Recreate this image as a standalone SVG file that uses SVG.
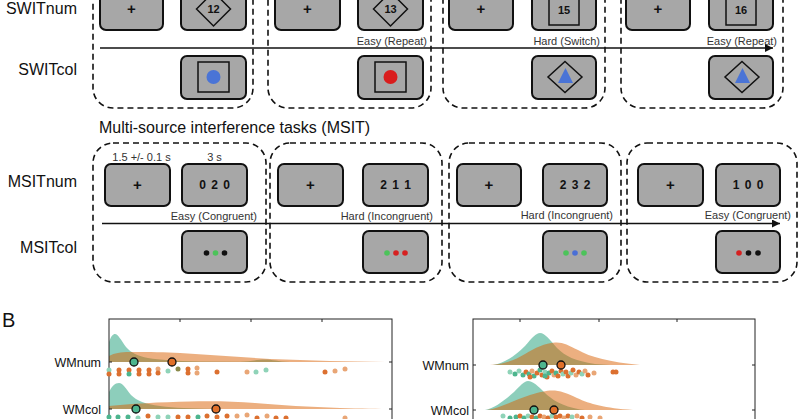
<svg xmlns="http://www.w3.org/2000/svg" width="800" height="419" viewBox="0 0 800 419">
<defs>
<style>
text{font-family:"Liberation Sans",Arial,sans-serif;fill:#111}
.lbl{font-size:16px}
.cond{font-size:11px;fill:#333}
.fix{font-size:15px;font-weight:bold;text-anchor:middle}
.num{font-size:11px;font-weight:bold;text-anchor:middle}
.mnum{font-size:12px;font-weight:bold;text-anchor:middle;letter-spacing:1px}
.panel{fill:none;stroke:#111;stroke-width:1.6;stroke-dasharray:6 4}
.scr{fill:#a7a7a7;stroke:#111;stroke-width:2}
.shape{fill:none;stroke:#111;stroke-width:1.5}
.ax{fill:none;stroke:#222;stroke-width:1}
.dg{fill:#1b9e77;fill-opacity:0.5}
.do{fill:#d95f02;fill-opacity:0.5}
.g{fill:#4db58e}
.lg{fill:#8fd3b8}
.o{fill:#dc7030}
.lo{fill:#e9a676}
.ol{fill:#8a8a4a}
.med{stroke:#111;stroke-width:1.3}
.wm{font-size:12.5px;text-anchor:end}
</style>
<marker id="ah" viewBox="0 0 10 10" refX="10" refY="5" markerWidth="11" markerHeight="8" markerUnits="userSpaceOnUse" orient="auto"><path d="M0,0 L10,5 L0,10 Z" fill="#111"/></marker>
</defs>
<rect width="800" height="419" fill="#fff"/>

<!-- Row labels -->
<g id="labels">
<text class="lbl" x="77" y="14" text-anchor="end">SWITnum</text>
<text class="lbl" x="77" y="75" text-anchor="end">SWITcol</text>
<text class="lbl" x="99" y="133">Multi-source interference tasks (MSIT)</text>
<text class="lbl" x="77" y="187" text-anchor="end">MSITnum</text>
<text class="lbl" x="77" y="253" text-anchor="end">MSITcol</text>
</g>

<!-- SWIT panels -->
<g id="swit1">
<rect class="panel" x="93" y="-40" width="160" height="148" rx="20"/>
<rect class="scr" x="100" y="-13" width="63" height="43" rx="6"/>
<text class="fix" x="131.5" y="14">+</text>
<rect class="scr" x="181" y="-13" width="65" height="43" rx="6"/>
<polygon class="shape" points="213.5,-8 230.5,9 213.5,26 196.5,9"/>
<text class="num" x="213.5" y="13">12</text>
<rect class="scr" x="181" y="56" width="65" height="43" rx="6"/>
<rect class="shape" x="198" y="62" width="31" height="30"/>
<circle cx="213.5" cy="77" r="7" fill="#4a74d6"/>
</g>
<g id="swit2">
<rect class="panel" x="268" y="-40" width="163" height="148" rx="20"/>
<rect class="scr" x="275" y="-13" width="65" height="43" rx="6"/>
<text class="fix" x="307.5" y="14">+</text>
<rect class="scr" x="358" y="-13" width="65" height="43" rx="6"/>
<polygon class="shape" points="390.5,-8 407.5,9 390.5,26 373.5,9"/>
<text class="num" x="390.5" y="13">13</text>
<text class="cond" x="427" y="45" text-anchor="end">Easy (Repeat)</text>
<rect class="scr" x="358" y="56" width="65" height="43" rx="6"/>
<rect class="shape" x="375" y="62" width="31" height="30"/>
<circle cx="390.5" cy="77" r="7" fill="#d91c1c"/>
</g>
<g id="swit3">
<rect class="panel" x="443" y="-40" width="162" height="148" rx="20"/>
<rect class="scr" x="449" y="-13" width="64" height="43" rx="6"/>
<text class="fix" x="481" y="14">+</text>
<rect class="scr" x="532" y="-13" width="64" height="43" rx="6"/>
<rect class="shape" x="549" y="-6" width="30" height="31"/>
<text class="num" x="564" y="14">15</text>
<text class="cond" x="600" y="45" text-anchor="end">Hard (Switch)</text>
<rect class="scr" x="532" y="56" width="64" height="43" rx="6"/>
<polygon class="shape" points="565,61.5 582,77 565,92.5 548,77"/>
<polygon points="565.5,68 573,83 558,83" fill="#4a74d6"/>
</g>
<g id="swit4">
<rect class="panel" x="621" y="-40" width="162" height="148" rx="20"/>
<rect class="scr" x="626" y="-13" width="64" height="43" rx="6"/>
<text class="fix" x="658" y="14">+</text>
<rect class="scr" x="709" y="-13" width="64" height="43" rx="6"/>
<rect class="shape" x="726" y="-6" width="30" height="31"/>
<text class="num" x="741" y="14">16</text>
<text class="cond" x="777" y="45" text-anchor="end">Easy (Repeat)</text>
<rect class="scr" x="709" y="56" width="64" height="43" rx="6"/>
<polygon class="shape" points="742,61.5 759,77 742,92.5 725,77"/>
<polygon points="742.5,68 750,83 735,83" fill="#4a74d6"/>
</g>

<!-- MSIT panels -->
<g id="msit1">
<rect class="panel" x="93" y="143" width="173" height="139" rx="20"/>
<text class="cond" x="141.5" y="161" text-anchor="middle">1.5 +/- 0.1 s</text>
<text class="cond" x="214.5" y="161" text-anchor="middle">3 s</text>
<rect class="scr" x="105" y="164" width="65" height="42" rx="6"/>
<text class="fix" x="137.5" y="190">+</text>
<rect class="scr" x="182" y="164" width="65" height="42" rx="6"/>
<text class="mnum" x="215" y="189">0 2 0</text>
<text class="cond" x="257" y="220" text-anchor="end">Easy (Congruent)</text>
<rect class="scr" x="182" y="231" width="65" height="42" rx="6"/>
<circle cx="206.5" cy="253" r="2.8" fill="#111"/>
<circle cx="215.5" cy="253" r="2.8" fill="#4cc35a"/>
<circle cx="224.5" cy="253" r="2.8" fill="#111"/>
</g>
<g id="msit2">
<rect class="panel" x="270" y="143" width="172" height="139" rx="20"/>
<rect class="scr" x="278" y="164" width="65" height="42" rx="6"/>
<text class="fix" x="310.5" y="190">+</text>
<rect class="scr" x="363" y="164" width="65" height="42" rx="6"/>
<text class="mnum" x="396" y="189">2 1 1</text>
<text class="cond" x="433" y="220" text-anchor="end">Hard (Incongruent)</text>
<rect class="scr" x="363" y="231" width="65" height="42" rx="6"/>
<circle cx="387" cy="253" r="2.8" fill="#4cc35a"/>
<circle cx="396" cy="253" r="2.8" fill="#d62020"/>
<circle cx="405" cy="253" r="2.8" fill="#d62020"/>
</g>
<g id="msit3">
<rect class="panel" x="449" y="143" width="172" height="139" rx="20"/>
<rect class="scr" x="457" y="164" width="64" height="42" rx="6"/>
<text class="fix" x="489" y="190">+</text>
<rect class="scr" x="543" y="164" width="64" height="42" rx="6"/>
<text class="mnum" x="575.5" y="189">2 3 2</text>
<text class="cond" x="613" y="219" text-anchor="end">Hard (Incongruent)</text>
<rect class="scr" x="543" y="231" width="64" height="42" rx="6"/>
<circle cx="566" cy="253" r="2.8" fill="#4cc35a"/>
<circle cx="575" cy="253" r="2.8" fill="#4a6fd6"/>
<circle cx="584" cy="253" r="2.8" fill="#4cc35a"/>
</g>
<g id="msit4">
<rect class="panel" x="627" y="143" width="170" height="139" rx="20"/>
<rect class="scr" x="638" y="164" width="65" height="42" rx="6"/>
<text class="fix" x="670.5" y="190">+</text>
<rect class="scr" x="716" y="164" width="64" height="42" rx="6"/>
<text class="mnum" x="748.5" y="189">1 0 0</text>
<text class="cond" x="791" y="219" text-anchor="end">Easy (Congruent)</text>
<rect class="scr" x="716" y="231" width="64" height="42" rx="6"/>
<circle cx="739" cy="253" r="2.8" fill="#d62020"/>
<circle cx="748.5" cy="253" r="2.8" fill="#111"/>
<circle cx="758" cy="253" r="2.8" fill="#111"/>
</g>

<!-- Connectors: time arrows -->
<g id="connectors" stroke="#111" stroke-width="1.6" fill="none">
<line x1="100" y1="48" x2="773" y2="48" marker-end="url(#ah)"/>
<line x1="102" y1="223.5" x2="780" y2="223.5" marker-end="url(#ah)"/>
</g>

<!-- Panel B -->
<g id="panelB">
<text x="2" y="327" font-size="20px">B</text>

<!-- left plot -->
<g id="plotLeft">
<path class="dg" d="M109,362 L109,342 C111,336 113,334 115,334 C118,334 121,340 126,347 C131,353 138,356 148,358 C160,360 175,361 200,361.5 L240,361.7 C250,361.5 258,359.5 265,359.5 C272,359.5 278,361.5 290,362 Z"/>
<path class="do" d="M109,362 L109,356 C115,353 120,352 130,352 C150,352 165,352 180,353 C210,355 240,357 270,359 C310,360.5 350,361.5 385,362 Z"/>
<path class="dg" d="M109,409 L109,392 C112,386 115,383 119,383 C123,383 126,389 131,395 C137,401 145,404 160,406 C175,408 190,408.5 215,409 Z"/>
<path class="do" d="M109,409 L109,406 C130,404 160,402 190,401.5 C215,401 235,401.5 255,403 C280,405 310,407 340,408 C360,408.7 380,409 392,409 Z"/>
<rect class="ax" x="109" y="319" width="283" height="130"/>
<path class="ax" d="M180,319 v3 M251,319 v3 M322,319 v3 M392,362 h-3 M392,409 h-3 M109,362 h3 M109,409 h3"/>
<text class="wm" x="101" y="367">WMnum</text>
<text class="wm" x="101" y="414">WMcol</text>
<g>
<circle class="lg" cx="109" cy="370" r="2.5"/><circle class="o" cx="109" cy="374" r="2.5"/>
<circle class="o" cx="119" cy="370" r="2.5"/><circle class="o" cx="119" cy="374" r="2.5"/>
<circle class="o" cx="129" cy="370" r="2.5"/><circle class="g" cx="129" cy="374" r="2.5"/>
<circle class="o" cx="139" cy="370" r="2.5"/><circle class="o" cx="139" cy="374" r="2.5"/>
<circle class="o" cx="149" cy="370" r="2.5"/><circle class="o" cx="149" cy="374" r="2.5"/>
<circle class="lo" cx="158" cy="369" r="2.5"/><circle class="o" cx="158" cy="373" r="2.5"/>
<circle class="lg" cx="168" cy="371" r="2.5"/>
<circle class="ol" cx="178" cy="369" r="2.5"/>
<circle class="o" cx="188" cy="369" r="2.5"/><circle class="o" cx="188" cy="373" r="2.5"/>
<circle class="lo" cx="197" cy="368" r="2.5"/><circle class="lo" cx="197" cy="373" r="2.5"/>
<circle class="o" cx="217" cy="372" r="2.5"/>
<circle class="lo" cx="247" cy="372" r="2.5"/>
<circle class="lg" cx="256" cy="372" r="2.5"/>
<circle class="lg" cx="266" cy="370" r="2.5"/>
<circle class="o" cx="325" cy="372" r="2.5"/>
<circle class="lo" cx="335" cy="371" r="2.5"/>
<circle class="lo" cx="345" cy="369" r="2.5"/>
</g>
<g>
<circle class="g" cx="109" cy="417" r="2.5"/><circle class="g" cx="118" cy="417" r="2.5"/>
<circle class="g" cx="128" cy="417" r="2.5"/><circle class="lg" cx="138" cy="418" r="2.5"/>
<circle class="o" cx="148" cy="416" r="2.5"/><circle class="lg" cx="158" cy="417" r="2.5"/>
<circle class="lg" cx="168" cy="417" r="2.5"/><circle class="o" cx="178" cy="417" r="2.5"/>
<circle class="o" cx="188" cy="417" r="2.5"/><circle class="g" cx="198" cy="417" r="2.5"/>
<circle class="o" cx="207" cy="416" r="2.5"/><circle class="o" cx="217" cy="417" r="2.5"/>
<circle class="o" cx="227" cy="416" r="2.5"/><circle class="lo" cx="237" cy="416" r="2.5"/>
<circle class="lo" cx="247" cy="415" r="2.5"/><circle class="o" cx="257" cy="418" r="2.5"/>
<circle class="lo" cx="267" cy="416" r="2.5"/><circle class="o" cx="276" cy="418" r="2.5"/>
<circle class="o" cx="286" cy="418" r="2.5"/><circle class="lo" cx="345" cy="418" r="2.5"/>
</g>
<circle class="med" cx="134" cy="362" r="4" fill="#4db58e"/>
<circle class="med" cx="172" cy="362" r="4" fill="#e0702a"/>
<circle class="med" cx="136" cy="409" r="4" fill="#4db58e"/>
<circle class="med" cx="216" cy="409" r="4" fill="#e0702a"/>
</g>

<!-- right plot -->
<g id="plotRight">
<path class="dg" d="M493,365 C505,363 515,356 525,346 C532,338 536,333 540,333 C545,333 550,340 557,348 C565,356 575,361 595,364 L610,365 Z"/>
<path class="do" d="M490,365 C505,364 515,360 525,354 C535,348 545,343 555,342.5 C563,342 568,345 578,350 C590,357 610,362 640,365 Z"/>
<path class="dg" d="M485,410 C495,408 505,400 514,392 C520,386 524,381 528,381 C533,381 538,386 544,392 C552,400 562,406 580,409.5 L585,410 Z"/>
<path class="do" d="M487,410 C500,408 515,400 530,395 C540,392 546,390.5 552,390.5 C560,390.5 567,393 577,398 C590,404 605,408 633,410 Z"/>
<rect class="ax" x="473" y="319" width="282" height="130"/>
<path class="ax" d="M520,319 v3 M599,319 v3 M677,319 v3 M755,365 h-3 M755,410 h-3 M473,365 h3 M473,410 h3"/>
<text class="wm" x="469" y="370">WMnum</text>
<text class="wm" x="469" y="415">WMcol</text>
<g>
<circle class="lg" cx="510" cy="372" r="2.5"/><circle class="g" cx="515" cy="374" r="2.5"/>
<circle class="lg" cx="519" cy="371" r="2.5"/><circle class="g" cx="523" cy="375" r="2.5"/>
<circle class="o" cx="526" cy="372" r="2.5"/><circle class="g" cx="529" cy="374" r="2.5"/>
<circle class="lo" cx="532" cy="371" r="2.5"/><circle class="g" cx="534" cy="376" r="2.5"/>
<circle class="o" cx="537" cy="373" r="2.5"/><circle class="g" cx="540" cy="370" r="2.5"/>
<circle class="o" cx="542" cy="375" r="2.5"/><circle class="lg" cx="545" cy="372" r="2.5"/>
<circle class="o" cx="547" cy="377" r="2.5"/><circle class="g" cx="549" cy="373" r="2.5"/>
<circle class="o" cx="552" cy="371" r="2.5"/><circle class="lo" cx="554" cy="375" r="2.5"/>
<circle class="g" cx="556" cy="373" r="2.5"/><circle class="o" cx="558" cy="376" r="2.5"/>
<circle class="o" cx="561" cy="371" r="2.5"/><circle class="lg" cx="563" cy="374" r="2.5"/>
<circle class="o" cx="566" cy="372" r="2.5"/><circle class="o" cx="568" cy="376" r="2.5"/>
<circle class="lg" cx="571" cy="373" r="2.5"/><circle class="o" cx="573" cy="370" r="2.5"/>
<circle class="lo" cx="576" cy="375" r="2.5"/><circle class="o" cx="579" cy="372" r="2.5"/>
<circle class="lg" cx="582" cy="374" r="2.5"/><circle class="lo" cx="585" cy="371" r="2.5"/>
<circle class="o" cx="588" cy="375" r="2.5"/><circle class="lo" cx="594" cy="373" r="2.5"/>
<circle class="o" cx="613" cy="372" r="2.5"/><circle class="o" cx="616" cy="372" r="2.5"/>
<circle class="o" cx="530" cy="377" r="2.5"/><circle class="g" cx="545" cy="376" r="2.5"/>
</g>
<g>
<circle class="lg" cx="503" cy="416" r="2.5"/><circle class="g" cx="510" cy="418" r="2.5"/>
<circle class="g" cx="516" cy="417" r="2.5"/><circle class="o" cx="520" cy="416" r="2.5"/>
<circle class="g" cx="524" cy="418" r="2.5"/><circle class="lg" cx="528" cy="416" r="2.5"/>
<circle class="o" cx="532" cy="417" r="2.5"/><circle class="g" cx="536" cy="418" r="2.5"/>
<circle class="o" cx="540" cy="416" r="2.5"/><circle class="lo" cx="544" cy="417" r="2.5"/>
<circle class="o" cx="548" cy="418" r="2.5"/><circle class="lg" cx="552" cy="416" r="2.5"/>
<circle class="o" cx="556" cy="417" r="2.5"/><circle class="o" cx="560" cy="416" r="2.5"/>
<circle class="lo" cx="564" cy="418" r="2.5"/><circle class="o" cx="568" cy="416" r="2.5"/>
<circle class="lg" cx="572" cy="417" r="2.5"/><circle class="lo" cx="577" cy="416" r="2.5"/>
<circle class="o" cx="582" cy="418" r="2.5"/><circle class="lo" cx="590" cy="417" r="2.5"/>
<circle class="lo" cx="600" cy="418" r="2.5"/>
</g>
<circle class="med" cx="543" cy="365" r="4" fill="#4db58e"/>
<circle class="med" cx="561" cy="365" r="4" fill="#e0702a"/>
<circle class="med" cx="534" cy="410" r="4" fill="#4db58e"/>
<circle class="med" cx="554" cy="410" r="4" fill="#e0702a"/>
</g>
</g>
</svg>
